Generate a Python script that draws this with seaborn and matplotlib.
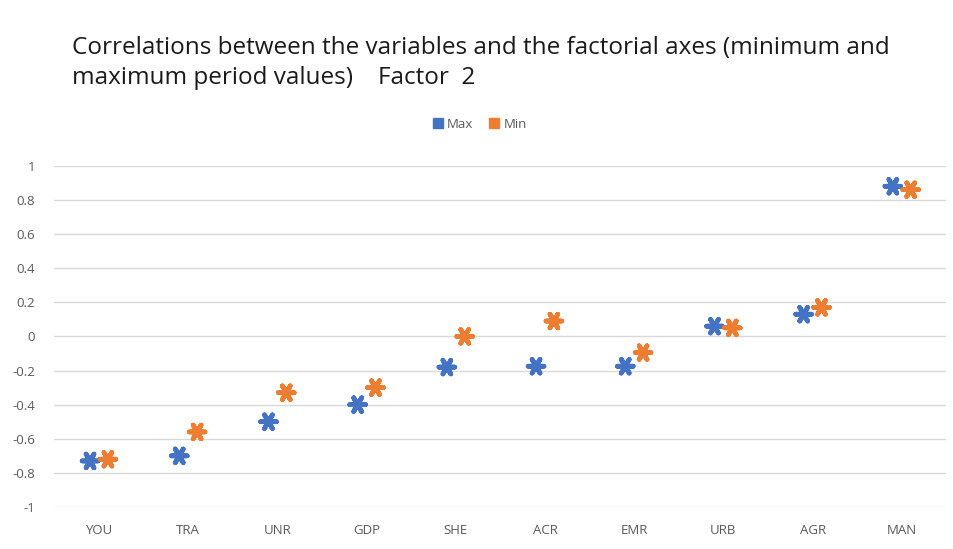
import matplotlib
matplotlib.use("Agg")
import matplotlib.pyplot as plt
import seaborn as sns
import pandas as pd
import numpy as np

categories = ["YOU", "TRA", "UNR", "GDP", "SHE", "ACR", "EMR", "URB", "AGR", "MAN"]
max_values = [-0.73, -0.70, -0.50, -0.40, -0.18, -0.175, -0.175, 0.06, 0.13, 0.88]
min_values = [-0.72, -0.56, -0.33, -0.30, 0.00, 0.09, -0.095, 0.05, 0.17, 0.86]
series_names = ["Max", "Min"]
y_ticks = [1, 0.8, 0.6, 0.4, 0.2, 0, -0.2, -0.4, -0.6, -0.8, -1]

colors = {"Max": "#4472C4", "Min": "#ED7D31"}

pos = np.arange(len(categories))
df = pd.DataFrame({
    "cat": categories * 2,
    "pos": np.concatenate([pos - 0.1, pos + 0.1]),
    "value": max_values + min_values,
    "series": [series_names[0]] * len(categories) + [series_names[1]] * len(categories),
})

sns.set_style("white")
plt.rcParams["font.family"] = ["Open Sans", "DejaVu Sans"]

fig = plt.figure(figsize=(9.54, 5.49), dpi=100)
ax = fig.add_axes([0.057, 0.0765, 0.935, 0.6215])

sns.scatterplot(data=df, x="pos", y="value", hue="series", palette=colors,
                marker=(6, 2, 30), s=130, linewidth=3.4, ax=ax, legend=False, zorder=3)

ax.set_xlim(-0.5, len(categories) - 0.5)
ax.set_ylim(-1, 1)
ax.set_yticks(y_ticks)
ax.set_yticklabels([f"{v:g}" for v in y_ticks])
ax.set_xticks(pos)
ax.set_xticklabels(categories)
ax.set_xlabel("")
ax.set_ylabel("")
for s in ax.spines.values():
    s.set_visible(False)
ax.grid(axis="y", color="#D9D9D9", linewidth=1)
ax.set_axisbelow(True)
ax.tick_params(axis="both", length=0, labelsize=9.5, labelcolor="#595959")
ax.tick_params(axis="x", pad=12)
ax.tick_params(axis="y", pad=14)

fig.text(0.0755, 0.934,
         "Correlations between the variables and the factorial axes (minimum and\n"
         "maximum period values)    Factor  2",
         fontsize=17.5, color="#1a1a1a", ha="left", va="top", linespacing=1.32)

# legend
handles = [plt.Line2D([], [], marker="s", linestyle="", color=colors[n], markersize=7)
           for n in series_names]
fig.legend(handles, series_names, loc="center", bbox_to_anchor=(0.503, 0.774), ncol=2,
           frameon=False, fontsize=9.5, handletextpad=0.3, columnspacing=1.2,
           labelcolor="#595959", handlelength=0.8)

fig.savefig("out.png", dpi=100, facecolor="white")
